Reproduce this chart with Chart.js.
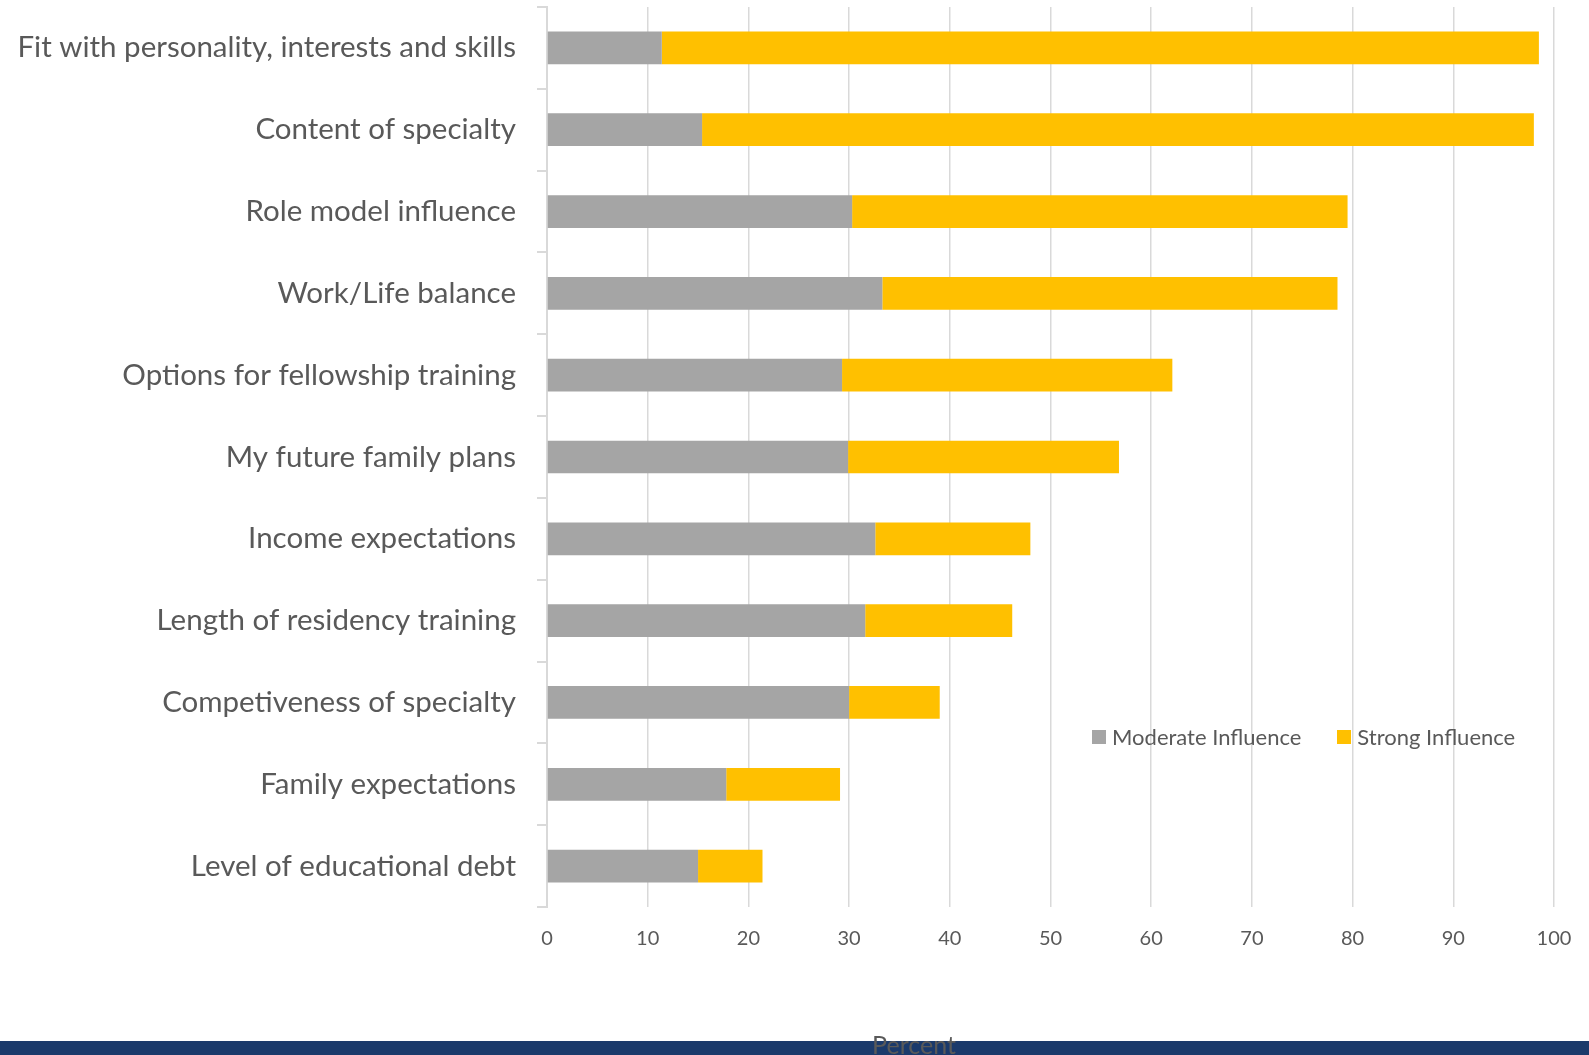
<!DOCTYPE html>
<html>
<head>
<meta charset="utf-8">
<script src="https://cdn.jsdelivr.net/npm/chart.js@4.4.1/dist/chart.umd.min.js"></script>
<style>
    body { margin: 0; background: #fff; }
    #wrap { position: relative; width: 1589px; height: 1055px; overflow: hidden; }
    #banda { position: absolute; left: 0; top: 1041px; width: 1589px; height: 14px; background: #1b3a6b; }
    #grafico { position: absolute; left: 0; top: 0; }
    #leyenda { position: absolute; left: 1092px; top: 726px; font-family: Lato, sans-serif; font-size: 22px; line-height: 22px; color: #595959; white-space: nowrap; }
    #leyenda span.item { display: inline-block; margin-right: 36px; }
    #leyenda span.cuadro { display: inline-block; width: 14px; height: 14px; margin-right: 6px; vertical-align: 1px; }
    #tituloX { position: absolute; left: 814px; width: 200px; top: 1032px; text-align: center; font-family: Lato, sans-serif; font-size: 25px; line-height: 25px; color: #595959; }
</style>
</head>
<body>
<div id="wrap">
    <div id="banda"></div>
    <canvas id="grafico" width="1589" height="1055"></canvas>
    <div id="leyenda"></div>
    <div id="tituloX">Percent</div>
</div>
<script>
// Datos
const categorias = [
    'Fit with personality, interests and skills',
    'Content of specialty',
    'Role model influence',
    'Work/Life balance',
    'Options for fellowship training',
    'My future family plans',
    'Income expectations',
    'Length of residency training',
    'Competiveness of specialty',
    'Family expectations',
    'Level of educational debt'
];
const moderada = [11.4, 15.4, 30.3, 33.3, 29.3, 29.9, 32.6, 31.6, 30.0, 17.8, 15.0];
const fuerte = [87.1, 82.6, 49.2, 45.2, 32.8, 26.9, 15.4, 14.6, 9.0, 11.3, 6.4];
const ticksX = [0, 10, 20, 30, 40, 50, 60, 70, 80, 90, 100];

const colorModerada = '#a5a5a5';
const colorFuerte = '#ffc000';
const fuente = 'Lato, sans-serif';

const series = [
    { label: 'Moderate Influence', data: moderada, backgroundColor: colorModerada },
    { label: 'Strong Influence', data: fuerte, backgroundColor: colorFuerte }
];

const ctx = document.getElementById('grafico').getContext('2d');
window.miGrafico = new Chart(ctx, {
    type: 'bar',
    data: {
        labels: categorias,
        datasets: series.map(s => ({
            label: s.label,
            data: s.data,
            backgroundColor: s.backgroundColor,
            barPercentage: 0.4,
            categoryPercentage: 1
        }))
    },
    options: {
        indexAxis: 'y',
        responsive: false,
        animation: false,
        layout: { padding: { top: 7, right: 35, left: 0, bottom: 0 } },
        plugins: {
            legend: { display: false },
            tooltip: { enabled: false }
        },
        scales: {
            x: {
                stacked: true,
                min: 0,
                max: 100,
                afterBuildTicks: (scale) => { scale.ticks = ticksX.map(v => ({ value: v })); },
                afterFit: (scale) => {
                    scale.height = 148;
                    scale.paddingLeft = 0;
                    scale.paddingRight = 0;
                },
                grid: { color: '#d9d9d9', lineWidth: 1.5, drawTicks: false },
                border: { display: false },
                ticks: { color: '#595959', font: { family: fuente, size: 20 }, padding: 20 }
            },
            y: {
                stacked: true,
                afterFit: (scale) => {
                    scale.width = 547;
                    scale.paddingTop = 0;
                    scale.paddingBottom = 0;
                },
                grid: { drawOnChartArea: false, drawTicks: true, tickLength: 10, color: '#d9d9d9', lineWidth: 2 },
                border: { display: true, color: '#d9d9d9', width: 2 },
                ticks: { color: '#595959', font: { family: fuente, size: 29.5 }, padding: 21 }
            }
        }
    }
});

// Leyenda en HTML dentro del area del grafico
const leyenda = document.getElementById('leyenda');
series.forEach(s => {
    leyenda.innerHTML += `<span class="item"><span class="cuadro" style="background:${s.backgroundColor}"></span>${s.label}</span>`;
});
</script>
</body>
</html>
